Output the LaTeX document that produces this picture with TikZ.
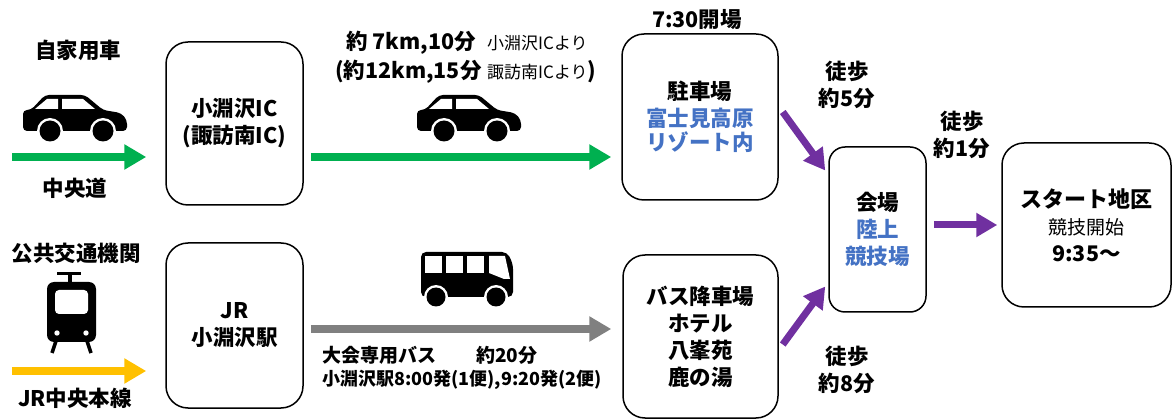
\documentclass[tikz,border=0pt]{standalone}
\usepackage{fontspec}
\setmainfont{Noto Sans CJK JP}
\usetikzlibrary{arrows.meta}

\definecolor{roadgreen}{HTML}{00B050}
\definecolor{railyellow}{HTML}{FFC000}
\definecolor{busgray}{HTML}{808080}
\definecolor{walkpurple}{HTML}{7030A0}
\definecolor{placeblue}{HTML}{4472C4}

\newcommand{\fmain}{\fontsize{21.5}{27}\selectfont\bfseries}
\newcommand{\fnote}{\fontsize{17}{20}\selectfont}

\tikzset{
	car/.pic={
		\fill[black, rounded corners=4pt] (0,17) -- (8,17) -- (22,2) -- (62,2) -- (80,17) -- (98,20) -- (104,27) -- (104,38) -- (0,38) -- cycle;
		\fill[white] (12,16) -- (24,6) -- (35,6) -- (35,16) -- cycle;
		\fill[white] (39,6) -- (60,6) -- (72,16) -- (39,16) -- cycle;
		\foreach \wx in {27,80} {
			\fill[white] (\wx,38) circle[radius=13pt];
			\fill[black] (\wx,38) circle[radius=10.5pt];
		}
	},
	bus/.pic={
		\fill[black, rounded corners=5pt] (0,0) -- (86,0) -- (92,12) -- (92,45) -- (0,45) -- cycle;
		\foreach \wx in {4,25,46}
			\fill[white] (\wx,4) rectangle ++(17,17);
		\fill[white] (68,4) -- (84,4) -- (89,27) -- (83,27) -- (68,21) -- cycle;
		\foreach \wx in {15,75} {
			\fill[white] (\wx,45) circle[radius=12pt];
			\fill[black] (\wx,45) circle[radius=9.5pt];
		}
	},
	train/.pic={
		\fill[black] (10,0) rectangle (34,3.5);
		\fill[black] (20.5,2) rectangle (24.5,11);
		\fill[black, rounded corners=7pt] (0,10) rectangle (49,70);
		\fill[white, rounded corners=4pt] (8,18) rectangle (41,42);
		\fill[white] (10,61) circle[radius=2.7pt];
		\fill[white] (39,61) circle[radius=2.7pt];
		\draw[line width=3.5pt] (9,69) -- (5,81);
		\draw[line width=3.5pt] (40,69) -- (44,81);
	},
}

\begin{document}
\begin{tikzpicture}[x=1pt, y=-1pt,
	box/.style={draw, line width=1.5pt, rounded corners=22pt, align=center, font=\fmain, inner sep=0pt},
	lbl/.style={align=center, font=\fmain, inner sep=0pt},
	note/.style={anchor=west, font=\fnote, inner sep=0pt},
	garrow/.style={draw=roadgreen, line width=8pt, -{Triangle[length=22pt, width=24pt]}},
	yarrow/.style={draw=railyellow, line width=8pt, -{Triangle[length=22pt, width=24pt]}},
	grarrow/.style={draw=busgray, line width=8pt, -{Triangle[length=22pt, width=24pt]}},
	parrow/.style={draw=walkpurple, line width=7pt, -{Triangle[length=21pt, width=23pt]}}]

	\useasboundingbox (0,0) rectangle (1172,419);

	% boxes
	\node[box, minimum width=137pt, minimum height=163pt] (ic) at (234.5,123.5) {小淵沢IC\\(諏訪南IC)};
	\node[box, minimum width=137pt, minimum height=165pt] (jr) at (234.5,325.5) {JR\\小淵沢駅};
	\node[box, minimum width=156pt, minimum height=166pt] (park) at (700,117)
		{駐車場\\\textcolor{placeblue}{富士見高原}\\[-3pt]\textcolor{placeblue}{リゾート内}};
	\node[box, minimum width=155pt, minimum height=163pt] (busstop) at (700.5,336.5)
		{バス降車場\\ホテル\\八峯苑\\鹿の湯};
	\node[box, rounded corners=16pt, minimum width=97pt, minimum height=165pt] (venue) at (877.5,229.5)
		{会場\\\textcolor{placeblue}{陸上}\\\textcolor{placeblue}{競技場}};
	\node[box, minimum width=169pt, minimum height=164pt] (startarea) at (1086.5,225)
		{{\fontsize{22}{27}\selectfont スタート地区}\\{\fontsize{19}{24}\selectfont\mdseries 競技開始}\\9:35〜};

	% icons
	\pic at (23,93) {car};
	\pic at (417,93) {car};
	\pic at (47,272) {train};
	\pic at (421,252) {bus};

	% left labels
	\node[lbl] (carlbl) at (78,50) {自家用車};
	\node[lbl] (roadlbl) at (75,188) {中央道};
	\node[lbl] (publbl) at (76,253) {公共交通機関};
	\node[lbl] (raillbl) at (75,398) {JR中央本線};

	% drive
	\node[lbl, anchor=west] (drivea) at (346,43) {約 7km,10分};
	\node[note] (fromic) at (487,43) {小淵沢ICより};
	\node[lbl, anchor=west] (driveb) at (335,72) {(約12km,15分};
	\node[note] (fromsuwa) at (487,72) {諏訪南ICより{\fmain )}};
	\node[lbl] (openlbl) at (697,20) {7:30開場};

	% shuttle
	\node[lbl, anchor=west, font=\fontsize{19}{22}\selectfont\bfseries] (shuttlea) at (322,355) {大会専用バス\hspace{40pt}約20分};
	\node[lbl, anchor=west, font=\fontsize{18}{20}\selectfont\bfseries] (shuttleb) at (322,380) {小淵沢駅8:00発(1便),9:20発(2便)};

	% walk
	\node[lbl] (walka) at (847,85) {徒歩\\約5分};
	\node[lbl] (walkb) at (962,135) {徒歩\\約1分};
	\node[lbl] (walkc) at (847,370) {徒歩\\約8分};

	% arrows
	\coordinate (roadline) at (12,157);
	\coordinate (railline) at (12,371);
	\coordinate (busline) at (0,329);
	\draw[garrow, shorten >=19pt] (roadline) -- (roadline -| ic.west);
	\draw[garrow, shorten <=7pt, shorten >=10pt] (roadline -| ic.east) -- (roadline -| park.west);
	\draw[yarrow, shorten >=19pt] (railline) -- (railline -| jr.west);
	\draw[grarrow, shorten <=7pt, shorten >=11pt] (busline -| jr.east) -- (busline -| busstop.west);
	\draw[parrow] ([shift={(4pt,5pt)}]park.east) -- ([shift={(-3pt,59pt)}]venue.west);
	\draw[parrow] ([shift={(4pt,-8pt)}]busstop.east) -- ([shift={(-3pt,-57pt)}]venue.west);
	\draw[parrow, shorten <=7pt, shorten >=4pt] (venue.east |- startarea.west) -- (startarea.west);

\end{tikzpicture}
\end{document}
